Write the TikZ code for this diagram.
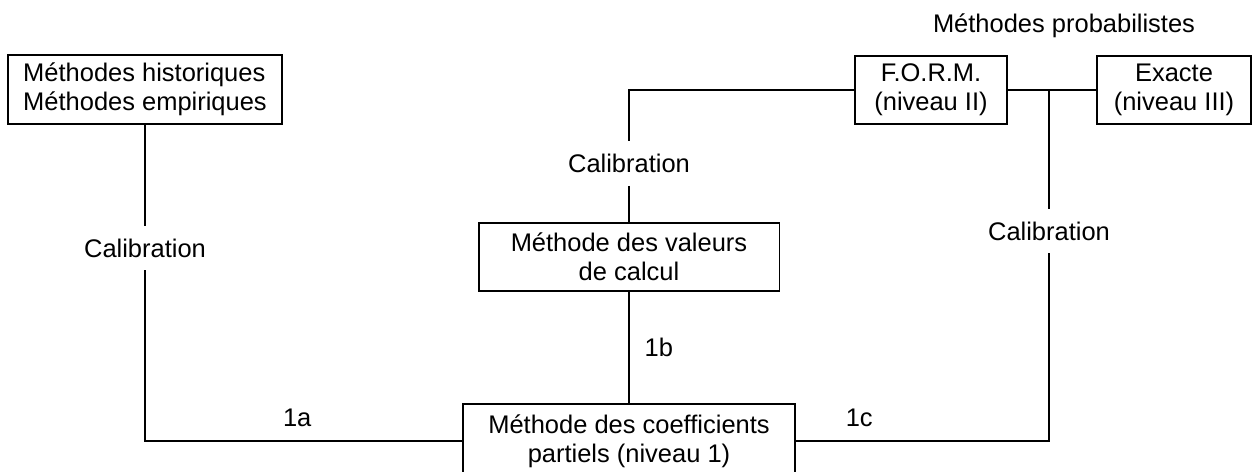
\documentclass[tikz,border=0pt]{standalone}
\usepackage{fontspec}
\setmainfont{Liberation Sans}
\usepackage{tikz}
\usetikzlibrary{positioning}
\tikzstyle{boite} = [rectangle, draw = black, line width = 1.1pt, align = center, inner sep = 0pt]
\tikzstyle{calib} = [minimum height = 0.88cm, inner sep = 0pt]
\tikzstyle{ligne} = [line width = 1.1pt]
\tikzstyle{etiq} = [above, yshift = 4pt]

\begin{document}
\begin{tikzpicture}[x = 0.02cm, y = -0.02cm, font = \fontsize{14.5}{16.5}\selectfont]
    \clip (0,0) rectangle (1253,471);
    \node (proba) [anchor = base] at (1064,32) {Méthodes probabilistes};
    \node (hist) [boite, align = left, minimum width = 5.48cm, minimum height = 1.38cm] at (145,89.5) {Méthodes historiques\\ Méthodes empiriques};
    \node (form) [boite, minimum width = 3.04cm, minimum height = 1.36cm] at (931,90) {F.O.R.M.\\ (niveau II)};
    \node (exacte) [boite, minimum width = 3.08cm, minimum height = 1.36cm] at (1174,90) {Exacte\\ (niveau III)};
    \node (valeurs) [boite, minimum width = 6.02cm, minimum height = 1.36cm] at (629,257) {Méthode des valeurs\\ de calcul};
    \node (partiel) [boite, minimum width = 6.64cm, minimum height = 1.48cm] at (629,441) {Méthode des coefficients\\ partiels (niveau 1)};
    \node (calib-a) [calib] at (145,248) {Calibration};
    \node (calib-b) [calib] at (629,163.5) {Calibration};
    \node (calib-c) [calib] at (1049,231) {Calibration};
    \coordinate (jonction) at (calib-c |- form.east);

    \draw [ligne] (hist) -- (calib-a);
    \draw [ligne] (calib-a) |- node [etiq, pos = 0.74] {1a} (partiel);
    \draw [ligne] (form) -- (exacte);
    \draw [ligne] (form) -| (calib-b);
    \draw [ligne] (calib-b) -- (valeurs);
    \draw [ligne] (valeurs) -- node [right, xshift = 5pt] {1b} (partiel);
    \draw [ligne] (partiel) -| node [etiq, pos = 0.125] {1c} (calib-c);
    \draw [ligne] (calib-c) -- (jonction);
\end{tikzpicture}
\end{document}
